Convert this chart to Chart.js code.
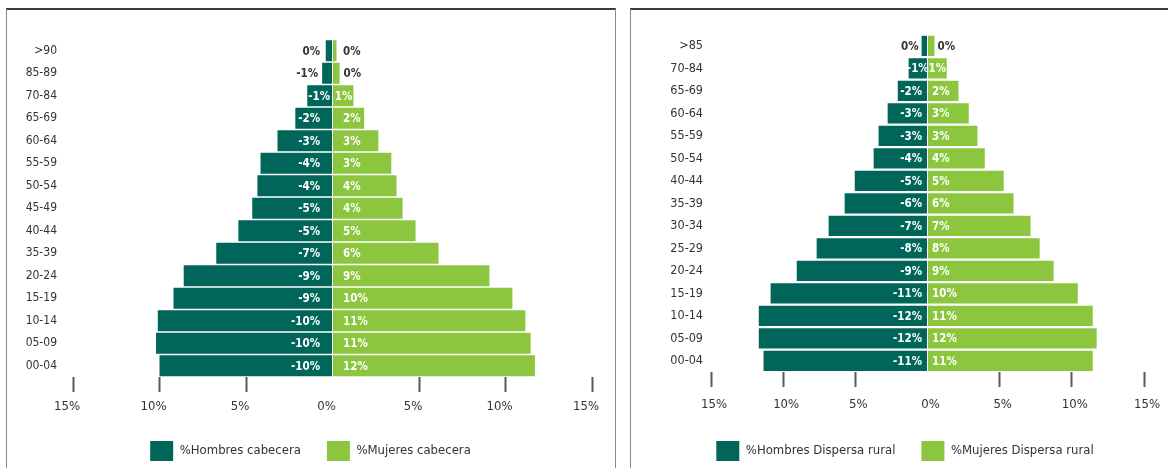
<!DOCTYPE html>
<html>
<head>
<meta charset="utf-8">
<script src="https://cdn.jsdelivr.net/npm/chart.js@4/dist/chart.umd.min.js"></script>
<style>
  html, body { margin: 0; padding: 0; background: #fff; }
  body { width: 1168px; height: 468px; overflow: hidden; position: relative; }
  .panel { position: absolute; top: 8px; height: 480px; border-top: 2px solid #3a3a3a;
           border-left: 1.5px solid #8a8a8a; border-right: 1.5px solid #8a8a8a; box-sizing: border-box; }
  .box { position: absolute; }
</style>
</head>
<body>
<div class="panel" style="left:6px; width:610px;"></div>
<div class="panel" style="left:630px; width:560px;"></div>
<div class="box" style="left:8px; top:10px; width:605px; height:461px;"><canvas id="chartCabecera"></canvas></div>
<div class="box" style="left:632px; top:10px; width:546px; height:461px;"><canvas id="chartRural"></canvas></div>
<script>
(function () {
    'use strict';

    // Age groups, top of the pyramid first
    var cabeceraAges = ['>90', '85-89', '70-84', '65-69', '60-64', '55-59', '50-54', '45-49', '40-44', '35-39', '20-24', '15-19', '10-14', '05-09', '00-04'];
    var cabeceraHombres = [-0.39, -0.6, -1.46, -2.15, -3.18, -4.16, -4.34, -4.64, -5.44, -6.72, -8.6, -9.19, -10.1, -10.2, -10.0];
    var cabeceraMujeres = [0.23, 0.41, 1.21, 1.83, 2.65, 3.4, 3.7, 4.05, 4.8, 6.13, 9.07, 10.4, 11.15, 11.45, 11.7];

    var ruralAges = ['>85', '70-84', '65-69', '60-64', '55-59', '50-54', '40-44', '35-39', '30-34', '25-29', '20-24', '15-19', '10-14', '05-09', '00-04'];
    var ruralHombres = [-0.41, -1.31, -2.06, -2.76, -3.39, -3.73, -5.04, -5.74, -6.85, -7.68, -9.06, -10.87, -11.69, -11.69, -11.36];
    var ruralMujeres = [0.48, 1.33, 2.15, 2.86, 3.46, 3.97, 5.28, 5.96, 7.14, 7.77, 8.74, 10.41, 11.45, 11.72, 11.45];

    var axisMin = -15, axisMax = 15, axisStep = 5;

    var NARROW = '"DejaVu Sans Condensed", "Liberation Sans", sans-serif';
    var colorHombres = '#00665a';
    var colorMujeres = '#8cc63f';
    var textColor = '#333333';

    // value labels: white inside the bar near the centre line, dark outside when the bar is too short
    var barLabels = {
        id: 'barLabels',
        afterDatasetsDraw: function (chart, args, opts) {
            var ctx = chart.ctx;
            ctx.save();
            ctx.font = 'bold 11.5px ' + NARROW;
            ctx.textBaseline = 'middle';
            ctx.textAlign = 'left';
            chart.data.datasets.forEach(function (ds, di) {
                var meta = chart.getDatasetMeta(di);
                meta.data.forEach(function (bar, i) {
                    var v = ds.data[i];
                    var txt = Math.round(v) + '%';
                    if (txt === '-0%') txt = '0%';
                    var w = ctx.measureText(txt).width;
                    var len = Math.abs(bar.x - bar.base);
                    var left, color = '#ffffff';
                    if (len >= w * 0.75) {
                        if (w > len - 2) {
                            left = (bar.x + bar.base) / 2 - w / 2;
                        } else if (v < 0) {
                            left = Math.max(bar.base - opts.gapMen - w, bar.x + 1);
                        } else {
                            left = Math.min(bar.base + opts.gapMujeres, bar.x - 1 - w);
                        }
                    } else {
                        color = textColor;
                        if (v < 0) {
                            left = Math.min(bar.base - opts.gapMen, bar.x - opts.outGap) - w;
                        } else {
                            left = Math.max(bar.base + opts.gapMujeres, bar.x + opts.outGap);
                        }
                    }
                    ctx.fillStyle = color;
                    ctx.fillText(txt, left, bar.y + 1);
                });
            });
            ctx.restore();
        }
    };

    // keep the legend centred on the whole canvas, not on the padded area
    var centerLegend = {
        id: 'centerLegend',
        afterLayout: function (chart) {
            var pad = chart.options.layout.padding;
            var d = ((pad.right || 0) - (pad.left || 0)) / 2;
            chart.legend.left += d;
            chart.legend.right += d;
        }
    };

    function pyramid(id, ages, hombres, mujeres, names, cfg) {
        return new Chart(document.getElementById(id), {
            type: 'bar',
            data: {
                labels: ages,
                datasets: [
                    { label: names[0], data: hombres, backgroundColor: colorHombres, barPercentage: cfg.barPct, categoryPercentage: 1 },
                    { label: names[1], data: mujeres, backgroundColor: colorMujeres, barPercentage: cfg.barPct, categoryPercentage: 1 }
                ]
            },
            options: {
                indexAxis: 'y',
                animation: false,
                maintainAspectRatio: false,
                responsive: true,
                layout: { padding: { top: cfg.top, right: cfg.right, left: 0, bottom: 0 } },
                scales: {
                    x: {
                        stacked: true,
                        min: axisMin,
                        max: axisMax,
                        ticks: {
                            stepSize: axisStep,
                            padding: cfg.tickPad,
                            labelOffset: cfg.labelShift,
                            color: textColor,
                            font: { family: NARROW, size: 13 },
                            callback: function (v) { return Math.abs(v) + '%'; }
                        },
                        grid: {
                            drawOnChartArea: false,
                            tickLength: 15,
                            tickWidth: 2,
                            tickColor: function (c) { return c.tick && c.tick.value === 0 ? 'rgba(0,0,0,0)' : '#595959'; }
                        },
                        border: { display: false },
                        afterFit: function (scale) { scale.height = cfg.xHeight; }
                    },
                    y: {
                        stacked: true,
                        ticks: {
                            padding: cfg.yPad,
                            color: textColor,
                            font: { family: NARROW, size: cfg.ageSize }
                        },
                        grid: { display: false, drawTicks: false },
                        border: { display: false },
                        afterFit: function (scale) { scale.width = cfg.yWidth; }
                    }
                },
                plugins: {
                    legend: {
                        position: 'bottom',
                        labels: {
                            boxWidth: 23,
                            boxHeight: 20,
                            padding: 26,
                            color: textColor,
                            font: { family: NARROW, size: 13 }
                        }
                    },
                    tooltip: { enabled: false },
                    barLabels: cfg.labels
                }
            },
            plugins: [barLabels, centerLegend]
        });
    }

    pyramid('chartCabecera', cabeceraAges, cabeceraHombres, cabeceraMujeres,
        ['%Hombres cabecera', '%Mujeres cabecera'],
        { barPct: 0.93, top: 29.5, right: 21, yWidth: 65, yPad: 16, ageSize: 12, xHeight: 38, tickPad: 7, labelShift: -6,
          labels: { gapMen: 12, gapMujeres: 10, outGap: 4 } });

    pyramid('chartRural', ruralAges, ruralHombres, ruralMujeres,
        ['%Hombres Dispersa rural', '%Mujeres Dispersa rural'],
        { barPct: 0.9, top: 24.5, right: 34, yWidth: 79, yPad: 8, ageSize: 12.5, xHeight: 43, tickPad: 10, labelShift: 3,
          labels: { gapMen: 5, gapMujeres: 4, outGap: 3 } });
})();
</script>
</body>
</html>
